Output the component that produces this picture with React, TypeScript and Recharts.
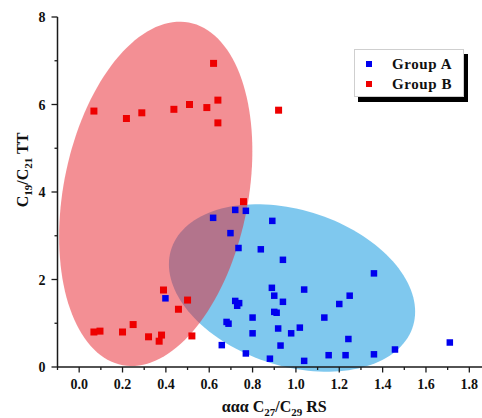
import { ScatterChart, Scatter, XAxis, YAxis, ReferenceArea, Legend } from 'recharts'

// [x, y] pairs
const groupA: [number, number][] = [
  [0.398, 1.57], [0.618, 3.41], [0.698, 3.06], [0.72, 3.59], [0.769, 3.57],
  [0.735, 2.72], [0.658, 0.5], [0.68, 1.03], [0.689, 0.99], [0.72, 1.51],
  [0.738, 1.46], [0.729, 1.4], [0.891, 3.34], [0.838, 2.69], [0.94, 2.45],
  [1.36, 2.14], [0.889, 1.81], [0.9, 1.63], [0.94, 1.49], [1.038, 1.77],
  [1.248, 1.63], [1.2, 1.44], [0.9, 1.26], [0.911, 1.24], [0.8, 1.13],
  [1.131, 1.13], [0.918, 0.88], [1.018, 0.9], [0.8, 0.77], [0.978, 0.77],
  [0.929, 0.49], [1.242, 0.64], [0.769, 0.31], [0.88, 0.19], [1.038, 0.14],
  [1.151, 0.27], [1.229, 0.27], [1.36, 0.29], [1.457, 0.4], [1.71, 0.56],
]

const groupB: [number, number][] = [
  [0.068, 5.85], [0.218, 5.68], [0.289, 5.81], [0.437, 5.89], [0.509, 6.0],
  [0.589, 5.93], [0.62, 6.94], [0.64, 6.1], [0.64, 5.58], [0.92, 5.87],
  [0.758, 3.78], [0.068, 0.8], [0.096, 0.82], [0.2, 0.8], [0.249, 0.97],
  [0.32, 0.69], [0.369, 0.59], [0.38, 0.73], [0.389, 1.76], [0.458, 1.32],
  [0.5, 1.53], [0.52, 0.71],
]

// ellipses: bounding box in data units + correlation
const ellipseA = { x1: 0.414, x2: 1.55, y1: -0.107, y2: 3.72, r: -0.283 }
const ellipseB = { x1: -0.0925, x2: 0.799, y1: 0.023, y2: 7.893, r: 0.249 }

const xTicks = [-0.1, 0, 0.1, 0.2, 0.3, 0.4, 0.5, 0.6, 0.7, 0.8, 0.9, 1.0, 1.1, 1.2, 1.3, 1.4, 1.5, 1.6, 1.7, 1.8, 1.9]
const yTicks = [0, 1, 2, 3, 4, 5, 6, 7, 8]

const seriesNames = ['Group A', 'Group B']
const seriesColors = ['#0000ee', '#ee0000']

const FONT = '"Liberation Serif", "Times New Roman", serif'
const AXIS = '#1a1a1a'

const toPts = (d: [number, number][]) => d.map(([x, y]) => ({ x, y }))

const ellipseShape = (r: number, fill: string) => (p: any) => {
  const w = Math.abs(p.width), h = Math.abs(p.height)
  const cx = Math.min(p.x, p.x + p.width) + w / 2
  const cy = Math.min(p.y, p.y + p.height) + h / 2
  const s = Math.sqrt(1 - r * r)
  const pts: string[] = []
  for (let i = 0; i < 144; i++) {
    const t = (i / 144) * Math.PI * 2
    pts.push(`${cx + (w / 2) * Math.cos(t)},${cy - (h / 2) * (r * Math.cos(t) + s * Math.sin(t))}`)
  }
  return <polygon points={pts.join(' ')} fill={fill} fillOpacity={0.5} stroke="none" />
}

const square = (size: number, color: string) => (p: any) =>
  <rect x={p.cx - size / 2} y={p.cy - size / 2} width={size} height={size} fill={color} />

const XTick = (props: any) => {
  const { x, y, payload } = props
  const v = payload.value as number
  const major = Math.round(v * 10) % 2 === 0
  return (
    <g>
      <line x1={x} x2={x} y1={y} y2={y + (major ? 5.5 : 3)} stroke={AXIS} strokeWidth={1.3} />
      {major && (
        <text x={x} y={y + 22} textAnchor="middle" fontFamily={FONT} fontWeight="bold" fontSize={14} fill="#111">
          {v.toFixed(1)}
        </text>
      )}
    </g>
  )
}

const YTick = (props: any) => {
  const { x, y, payload } = props
  const v = payload.value as number
  const major = v % 2 === 0
  return (
    <g>
      <line x1={x - (major ? 6 : 3)} x2={x} y1={y} y2={y} stroke={AXIS} strokeWidth={1.3} />
      {major && (
        <text x={x - 12} y={y + 5} textAnchor="end" fontFamily={FONT} fontWeight="bold" fontSize={14} fill="#111">
          {v}
        </text>
      )}
    </g>
  )
}

const YTitle = (props: any) => {
  const vb = props.viewBox
  const cx = 22
  const cy = vb.y + vb.height / 2 - 22
  return (
    <text x={cx} y={cy} dy="0.35em" transform={`rotate(-90 ${cx} ${cy})`} textAnchor="middle"
      fontFamily={FONT} fontWeight="bold" fontSize={16} fill="#111">
      C<tspan dy={4} fontSize={11}>19</tspan><tspan dy={-4}>/C</tspan>
      <tspan dy={4} fontSize={11}>21</tspan><tspan dy={-4}> TT</tspan>
    </text>
  )
}

const XTitle = (props: any) => {
  const vb = props.viewBox
  return (
    <text x={vb.x + vb.width / 2} y={vb.y + 45} textAnchor="middle"
      fontFamily={FONT} fontWeight="bold" fontSize={16} fill="#111">
      ααα C<tspan dy={4} fontSize={11}>27</tspan><tspan dy={-4}>/C</tspan>
      <tspan dy={4} fontSize={11}>29</tspan><tspan dy={-4}> RS</tspan>
    </text>
  )
}

const LegendBox = () => (
  <div style={{
    width: 110, height: 48, background: '#fff', border: '1px solid #cfcfcf',
    boxShadow: '4px 5px 0 #000', fontFamily: FONT, fontWeight: 'bold', fontSize: 15,
    letterSpacing: 0.6, color: '#111', boxSizing: 'border-box', position: 'relative',
  }}>
    {seriesNames.map((n, i) => (
      <div key={n} style={{ position: 'absolute', left: 0, top: 5 + i * 20, height: 18, display: 'flex', alignItems: 'center' }}>
        <span style={{ display: 'inline-block', width: 6, height: 6, background: seriesColors[i], marginLeft: 11, marginRight: 20 }} />
        <span>{n}</span>
      </div>
    ))}
  </div>
)

export default function App() {
  return (
    <div style={{ position: 'absolute', left: 0, top: 0, width: 482, height: 418, overflow: 'hidden', background: '#fff' }}>
      <ScatterChart width={500} height={418} margin={{ top: 17, right: 9, bottom: 0, left: 0 }}>
        <XAxis type="number" dataKey="x" domain={[-0.1, 1.9]} ticks={xTicks} interval={0}
          tick={<XTick />} tickLine={false} tickSize={0} tickMargin={0} height={51}
          axisLine={{ stroke: AXIS, strokeWidth: 1.5 }} allowDataOverflow label={<XTitle />} />
        <XAxis xAxisId="top" orientation="top" type="number" dataKey="x" domain={[-0.1, 1.9]} height={0}
          tick={false} tickLine={false} axisLine={{ stroke: '#777', strokeWidth: 1 }} />
        <YAxis type="number" dataKey="y" domain={[0, 8]} ticks={yTicks} interval={0}
          tick={<YTick />} tickLine={false} tickSize={0} tickMargin={0} width={57.5}
          axisLine={{ stroke: AXIS, strokeWidth: 1.5 }} allowDataOverflow label={<YTitle />} />
        <ReferenceArea x1={ellipseA.x1} x2={ellipseA.x2} y1={ellipseA.y1} y2={ellipseA.y2}
          ifOverflow="visible" shape={ellipseShape(ellipseA.r, '#0092dd')} />
        <ReferenceArea x1={ellipseB.x1} x2={ellipseB.x2} y1={ellipseB.y1} y2={ellipseB.y2}
          ifOverflow="visible" shape={ellipseShape(ellipseB.r, '#e8202a')} />
        <Legend layout="vertical" align="center" verticalAlign="middle" content={() => <LegendBox />}
          wrapperStyle={{ position: 'absolute', left: 354, top: 49, width: 'auto', height: 'auto' }} />
        <Scatter name={seriesNames[0]} data={toPts(groupA)} shape={square(6.5, seriesColors[0])} isAnimationActive={false} />
        <Scatter name={seriesNames[1]} data={toPts(groupB)} shape={square(7, seriesColors[1])} isAnimationActive={false} />
      </ScatterChart>
    </div>
  )
}
